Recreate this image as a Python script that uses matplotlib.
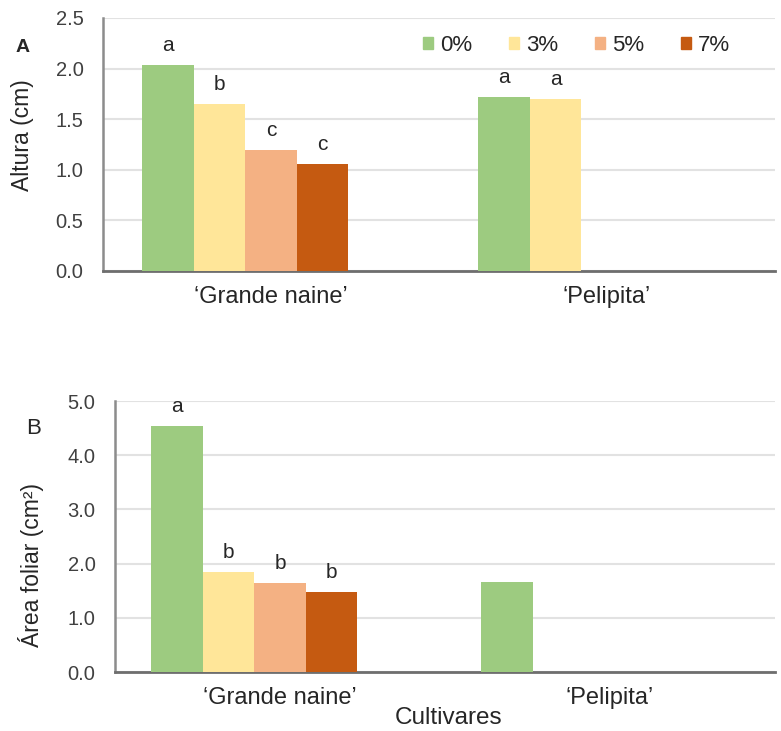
import numpy as np
import matplotlib
matplotlib.use('Agg')
import matplotlib.pyplot as plt
from matplotlib.patches import Patch

plt.rcParams['font.family'] = ['Liberation Sans', 'DejaVu Sans']

cultivares = ["\u2018Grande naine\u2019", "\u2018Pelipita\u2019"]
doses = ['0%', '3%', '5%', '7%']
colors = ['#9DCB80', '#FFE699', '#F4B183', '#C55A11']

# altura (cm), one list per dose: [Grande naine, Pelipita]
altura = {
    '0%': [2.04, 1.72],
    '3%': [1.65, 1.70],
    '5%': [1.20, np.nan],
    '7%': [1.06, np.nan],
}
letras_altura = {
    '0%': ['a', 'a'],
    '3%': ['b', 'a'],
    '5%': ['c', ''],
    '7%': ['c', ''],
}

# area foliar (cm2)
area = {
    '0%': [4.54, 1.66],
    '3%': [1.85, np.nan],
    '5%': [1.64, np.nan],
    '7%': [1.48, np.nan],
}
letras_area = {
    '0%': ['a', ''],
    '3%': ['b', ''],
    '5%': ['b', ''],
    '7%': ['b', ''],
}

txt_col = '#404040'
fig = plt.figure(figsize=(7.81, 7.31), dpi=100)


def painel(rect, data, letras, ymax, step, fmt, ylabel, lab_xy, w):
    ax = fig.add_axes(rect)
    x = np.arange(len(cultivares))
    for i, d in enumerate(doses):
        vals = np.array(data[d], dtype=float)
        # excel cluster has 5 slots, the last one empty
        pos = x + (i - 2.5) * w
        for xi, v, l in zip(pos, vals, letras[d]):
            if np.isnan(v):
                continue
            ax.bar(xi, v, width=w, color=colors[i], align='edge', zorder=3)
            if l:
                ax.annotate(l, (xi + w / 2, v), xytext=(0, 14), textcoords='offset points',
                            ha='center', va='center', fontsize=15, color='#262626')
    ax.set_xlim(-0.5, 1.5)
    ax.set_ylim(0, ymax)
    ax.set_yticks(np.arange(0, ymax + step / 2, step))
    ax.set_yticklabels([fmt.format(t) for t in np.arange(0, ymax + step / 2, step)])
    ax.set_xticks(x)
    ax.set_xticklabels(cultivares)
    ax.tick_params(axis='y', length=0, pad=14, labelsize=14.5, labelcolor=txt_col)
    ax.tick_params(axis='x', length=0, pad=11, labelsize=17, labelcolor='#262626')
    ax.grid(axis='y', color='#e2e2e2', linewidth=1.5, zorder=0)
    for s in ['top', 'right']:
        ax.spines[s].set_visible(False)
    ax.spines['left'].set_color('#8c8c8c')
    ax.spines['left'].set_linewidth(1.8)
    ax.spines['bottom'].set_color('#6e6e6e')
    ax.spines['bottom'].set_linewidth(2)
    ax.set_ylabel(ylabel, fontsize=16.5, color='#262626')
    ax.yaxis.set_label_coords(*lab_xy)
    return ax


axA = painel([0.1319, 0.6293, 0.8604, 0.3461], altura, letras_altura, 2.5, 0.5, '{:.1f}',
             'Altura (cm)', (-0.1026, 0.537), 0.1533)
axB = painel([0.1472, 0.0807, 0.8451, 0.3707], area, letras_area, 5.0, 1.0, '{:.1f}',
             '\u00c1rea foliar (cm\u00b2)', (-0.108, 0.395), 0.156)

handles = [Patch(color=c, label=d) for c, d in zip(colors, doses)]
axA.legend(handles=handles, ncol=4, loc='center left', bbox_to_anchor=(0.476, 0.893),
           frameon=False, fontsize=16, handlelength=0.45, handleheight=0.45,
           handletextpad=0.32, columnspacing=1.65, borderpad=0, borderaxespad=0,
           labelcolor='#262626')

fig.text(23 / 781, 1 - 48 / 731, 'A', fontsize=14, fontweight='bold', ha='center', va='center', color='#262626')
fig.text(34 / 781, 1 - 428 / 731, 'B', fontsize=16, ha='center', va='center', color='#262626')
fig.text(449 / 781, 1 - 718 / 731, 'Cultivares', fontsize=17.5, ha='center', va='center', color='#262626')

fig.savefig('out.png', dpi=100)
